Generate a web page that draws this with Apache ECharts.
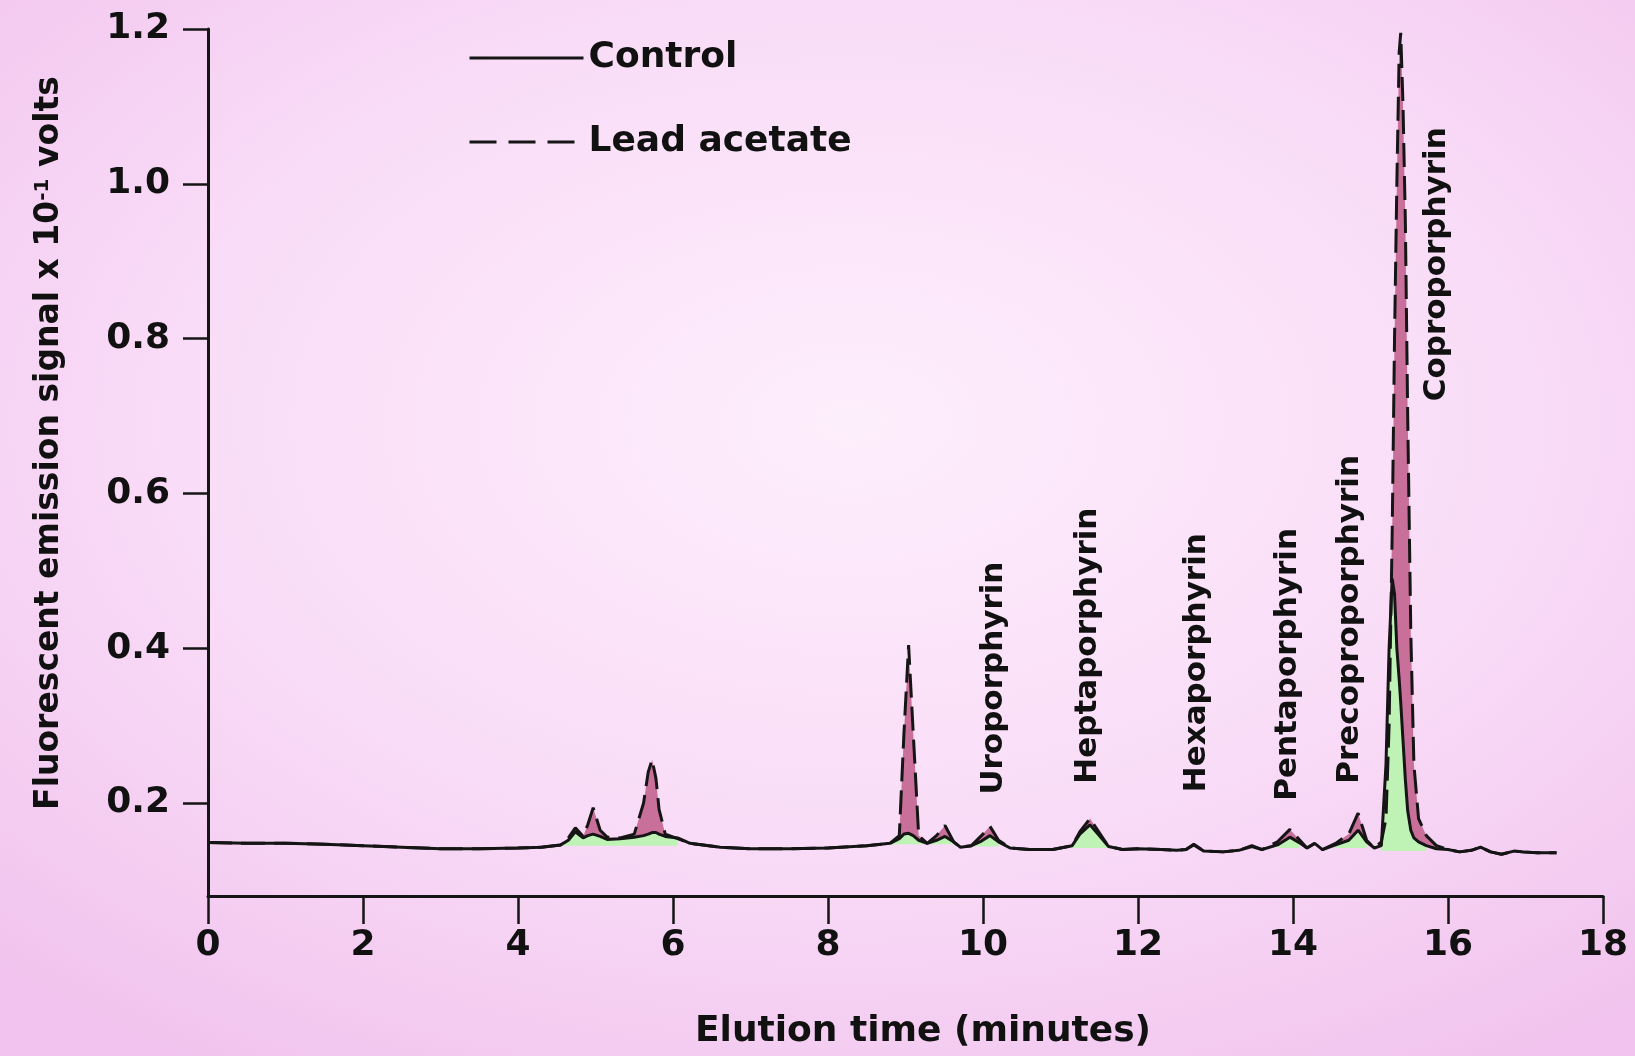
<!DOCTYPE html>
<html>
<head>
<meta charset="utf-8">
<script src="https://cdn.jsdelivr.net/npm/echarts@6.0.0/dist/echarts.min.js"></script>
<style>
html,body{margin:0;padding:0;}
#c{width:1635px;height:1056px;background:radial-gradient(ellipse 75% 72% at 52% 40%, #fdeefc 0%, #f9dcf7 55%, #f1c3ee 100%);}
</style>
</head>
<body>
<div id="c"></div>
<script>
// ---- data ----
const times = [0,0.5,1.0,1.5,2.0,2.5,3.0,3.5,4.0,4.3,
  4.55,4.65,4.74,4.84,4.90,4.97,5.06,5.15,5.32,5.50,
  5.62,5.68,5.73,5.78,5.82,5.90,6.06,6.22,6.61,7.0,
  7.5,8.0,8.5,8.8,8.92,8.98,9.04,9.10,9.17,9.28,
  9.40,9.51,9.62,9.71,9.85,9.98,10.09,10.20,10.35,10.6,
  10.9,11.15,11.25,11.38,11.50,11.62,11.8,12.0,12.3,12.5,
  12.62,12.72,12.85,13.1,13.3,13.47,13.6,13.8,13.96,14.08,
  14.18,14.28,14.38,14.55,14.72,14.84,14.95,15.05,15.14,15.20,
  15.24,15.28,15.31,15.34,15.37,15.39,15.42,15.45,15.48,15.52,
  15.56,15.62,15.72,15.85,16.0,16.15,16.3,16.42,16.55,16.69,
  16.85,16.96,17.15,17.4];

const control = [0.149,0.148,0.148,0.147,0.145,0.143,0.141,0.141,0.142,0.143,
  0.146,0.152,0.163,0.155,0.158,0.160,0.157,0.153,0.154,0.156,
  0.158,0.160,0.162,0.162,0.160,0.157,0.155,0.148,0.143,0.141,
  0.141,0.142,0.145,0.148,0.154,0.160,0.161,0.158,0.152,0.148,
  0.152,0.157,0.150,0.143,0.145,0.151,0.158,0.150,0.142,0.140,
  0.140,0.145,0.160,0.172,0.158,0.144,0.140,0.141,0.140,0.139,
  0.140,0.146,0.138,0.137,0.139,0.144,0.140,0.146,0.156,0.149,
  0.142,0.148,0.140,0.146,0.152,0.165,0.150,0.142,0.145,0.250,
  0.400,0.490,0.470,0.400,0.360,0.330,0.280,0.230,0.190,0.165,
  0.155,0.150,0.145,0.141,0.140,0.137,0.139,0.143,0.137,0.134,
  0.138,0.137,0.136,0.136];

const lead = [0.149,0.148,0.148,0.147,0.145,0.143,0.141,0.141,0.142,0.143,
  0.146,0.155,0.168,0.157,0.172,0.194,0.165,0.156,0.155,0.160,
  0.200,0.240,0.256,0.232,0.192,0.160,0.154,0.148,0.143,0.141,
  0.141,0.142,0.145,0.148,0.158,0.290,0.404,0.290,0.158,0.148,
  0.158,0.171,0.150,0.143,0.145,0.158,0.170,0.152,0.142,0.140,
  0.140,0.145,0.163,0.180,0.162,0.144,0.140,0.141,0.140,0.139,
  0.140,0.147,0.138,0.137,0.139,0.145,0.140,0.150,0.166,0.153,
  0.142,0.148,0.140,0.148,0.160,0.187,0.152,0.142,0.150,0.180,
  0.300,0.550,0.800,1.000,1.170,1.195,1.100,0.950,0.700,0.420,
  0.250,0.180,0.158,0.145,0.140,0.137,0.139,0.143,0.137,0.134,
  0.138,0.137,0.136,0.136];

// lower edge of the green shading under control peaks (null = no shading)
const greenFloor = [null,null,null,null,null,null,null,null,null,null,
  0.145,0.145,0.145,0.145,0.145,0.145,0.145,0.145,0.145,0.145,
  0.145,0.145,0.145,0.145,0.145,0.145,0.145,null,null,null,
  null,null,null,0.147,0.147,0.147,0.147,0.147,0.147,0.147,
  0.147,0.147,0.147,null,0.144,0.144,0.144,0.144,null,null,
  null,0.142,0.142,0.142,0.142,0.142,null,null,null,null,
  null,null,null,null,null,null,null,0.142,0.142,0.142,
  null,null,null,0.142,0.142,0.142,0.142,null,0.138,0.138,
  0.138,0.138,0.138,0.138,0.138,0.138,0.138,0.138,0.138,0.138,
  0.138,0.138,0.138,null,null,null,null,null,null,null,
  null,null,null,null];

const yTicks = [0.2, 0.4, 0.6, 0.8, 1.0, 1.2];
const peakNames = ['Uroporphyrin','Heptaporphyrin','Hexaporphyrin','Pentaporphyrin','Precoproporphyrin','Coproporphyrin'];
const peakLabelT = [10.14, 11.35, 12.76, 13.93, 14.74, 15.86];
const peakLabelV = [0.211, 0.225, 0.214, 0.203, 0.225, 0.719];

// ---- rendering ----
const FONT = "'DejaVu Sans'";
const INK = '#151515';
const chart = echarts.init(document.getElementById('c'), null, {renderer: 'canvas'});

function band(upper, lower, segs, color) {
  return {
    type: 'custom', silent: true, z: 1, animation: false,
    data: segs.map(s => [times[s[0]], 0.1]),
    renderItem: function (params, api) {
      const s = segs[params.dataIndex];
      const top = [], bot = [];
      for (let i = s[0]; i <= s[1]; i++) {
        top.push(api.coord([times[i], upper[i]]));
        bot.push(api.coord([times[i], lower[i]]));
      }
      return {type: 'polygon', shape: {points: top.concat(bot.reverse())}, style: {fill: color}};
    }
  };
}

const greenSegs = [];
let start = -1;
for (let i = 0; i <= times.length; i++) {
  const has = i < times.length && greenFloor[i] != null;
  if (has && start < 0) start = i;
  if (!has && start >= 0) { greenSegs.push([start, i - 1]); start = -1; }
}
const greenLower = greenFloor.map((f, i) => f == null ? control[i] : Math.min(f, control[i]));
const pinkUpper = lead.map((v, i) => Math.max(v, control[i]));

chart.setOption({
  animation: false,
  backgroundColor: 'transparent',
  grid: {left: 208, right: 32, top: 29, bottom: 160, containLabel: false},
  legend: {
    orient: 'vertical', left: 463, top: 35, itemWidth: 114, itemHeight: 14, itemGap: 48,
    selectedMode: false,
    data: [{name: 'Control'}, {name: 'Lead acetate', lineStyle: {type: [27, 12]}}],
    textStyle: {fontFamily: FONT, fontWeight: 'bold', fontSize: 36, color: '#111', lineHeight: 36},
    lineStyle: {width: 3, color: INK},
    itemStyle: {opacity: 0}
  },
  xAxis: {
    type: 'value', min: 0, max: 18, interval: 2,
    axisLine: {show: true, lineStyle: {color: INK, width: 3}},
    axisTick: {show: true, length: 28, lineStyle: {color: INK, width: 2.5}},
    axisLabel: {fontFamily: FONT, fontWeight: 'bold', fontSize: 36, color: '#111', margin: 32},
    splitLine: {show: false},
    name: 'Elution time (minutes)', nameLocation: 'middle', nameGap: 118,
    nameTextStyle: {fontFamily: FONT, fontWeight: 'bold', fontSize: 36, color: '#111', padding: [0, 0, 0, 35]}
  },
  yAxis: {
    type: 'value', min: 0.08, max: 1.2,
    axisLine: {show: true, lineStyle: {color: INK, width: 3}},
    axisTick: {show: true, length: 25, customValues: yTicks, lineStyle: {color: INK, width: 2.5}},
    axisLabel: {customValues: yTicks, formatter: v => v.toFixed(1), fontFamily: FONT, fontWeight: 'bold', fontSize: 36, color: '#111', margin: 38},
    splitLine: {show: false},
    name: 'Fluorescent emission signal x 10{sup|-1} volts', nameLocation: 'middle', nameGap: 142,
    nameTextStyle: {
      fontFamily: FONT, fontWeight: 'bold', fontSize: 33, color: '#111', padding: [0, 0, 0, 39],
      rich: {sup: {fontFamily: FONT, fontWeight: 'bold', fontSize: 20, color: '#111', verticalAlign: 'top'}}
    }
  },
  series: [
    band(pinkUpper, control, [[0, times.length - 1]], '#c9709a'),
    band(control, greenLower, greenSegs, '#bff3b6'),
    {
      name: 'Control', type: 'line', symbol: 'none', silent: true, z: 3,
      data: times.map((t, i) => [t, control[i]]),
      itemStyle: {color: INK},
      lineStyle: {color: INK, width: 3}
    },
    {
      name: 'Lead acetate', type: 'line', symbol: 'none', silent: true, z: 4,
      data: times.map((t, i) => [t, lead[i]]),
      itemStyle: {color: INK},
      lineStyle: {color: INK, width: 3, type: [24, 9]}
    }
  ]
});

const labelEls = peakNames.map((n, i) => {
  const p = chart.convertToPixel({gridIndex: 0}, [peakLabelT[i], peakLabelV[i]]);
  return {
    type: 'text', x: p[0], y: p[1], rotation: Math.PI / 2, z: 10, silent: true,
    style: {text: n, fill: '#111', fontFamily: FONT, fontWeight: 'bold', fontSize: 31,
            align: 'left', verticalAlign: 'middle', textAlign: 'left', textVerticalAlign: 'middle'}
  };
});
chart.setOption({graphic: labelEls});
</script>
</body>
</html>
